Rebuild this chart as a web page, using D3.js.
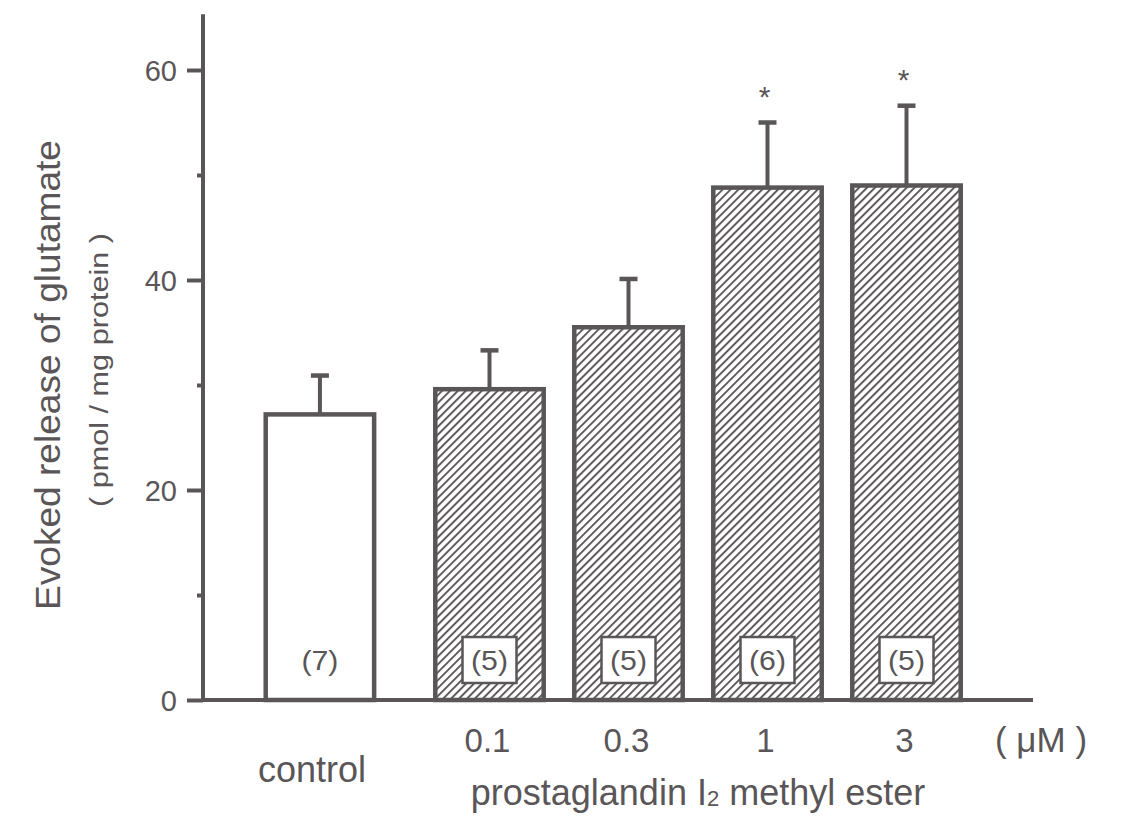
<!DOCTYPE html>
<html>
<head>
<meta charset="utf-8">
<script src="https://cdn.jsdelivr.net/npm/d3@7"></script>
<style>
  html, body { margin: 0; padding: 0; background: #fff; }
  svg { display: block; }
  text { font-family: "Liberation Sans", Arial, sans-serif; fill: #5a5658; }
</style>
</head>
<body>
<svg id="chart" width="1123" height="817"></svg>
<script>
// Evoked glutamate release: control vs. prostaglandin I2 methyl ester doses
const categories = ["control", "0.1", "0.3", "1", "3"];
const means      = [27.2, 29.6, 35.5, 48.8, 49.0];
const sems       = [3.7, 3.7, 4.6, 6.2, 7.6];
const nCounts    = ["(7)", "(5)", "(5)", "(6)", "(5)"];
const significant = [false, false, false, true, true];
const yTicks     = [0, 10, 20, 30, 40, 50, 60];
const yLabelTicks = [0, 20, 40, 60];

const ink = "#5a5658";
const svg = d3.select("#chart");

const y = d3.scaleLinear().domain([0, 60]).range([700, 70]);
const yTop = 65.3;

// Dose bars on a band scale; control sits a bit further left of the series
const doses = categories.slice(1);
const xDose = d3.scaleBand().domain(doses).range([420, 976]).paddingInner(0.22).paddingOuter(0.11);
const bw = xDose.bandwidth();
const step = xDose.step();
const xPos = c => c === "control" ? xDose("0.1") - step * 1.22 : xDose(c);

// Hatch pattern
const defs = svg.append("defs");
const pw = 5.6;
const pat = defs.append("pattern")
  .attr("id", "hatch").attr("patternUnits", "userSpaceOnUse")
  .attr("width", pw).attr("height", pw)
  .attr("patternTransform", "rotate(45)");
pat.append("rect").attr("width", pw).attr("height", pw).attr("fill", "#fff");
pat.append("line").attr("x1", 1).attr("y1", 0).attr("x2", 1).attr("y2", pw)
  .attr("stroke", ink).attr("stroke-width", 1.9);

// Error bars (upper only)
const eb = svg.append("g");
categories.forEach((c, i) => {
  const cx = xPos(c) + bw / 2;
  eb.append("line").attr("x1", cx).attr("x2", cx)
    .attr("y1", y(means[i])).attr("y2", y(means[i] + sems[i]))
    .attr("stroke", ink).attr("stroke-width", 4);
  eb.append("line").attr("x1", cx - 9).attr("x2", cx + 9)
    .attr("y1", y(means[i] + sems[i])).attr("y2", y(means[i] + sems[i]))
    .attr("stroke", ink).attr("stroke-width", 4.5);
  if (significant[i]) {
    eb.append("text").attr("x", cx - 3).attr("y", y(means[i] + sems[i]) - 16)
      .attr("text-anchor", "middle").attr("font-size", 30).text("*");
  }
});

// Bars
const bars = svg.append("g");
categories.forEach((c, i) => {
  bars.append("rect")
    .attr("x", xPos(c)).attr("width", bw)
    .attr("y", y(means[i])).attr("height", y(0) - y(means[i]))
    .attr("fill", i === 0 ? "#fff" : "url(#hatch)")
    .attr("stroke", ink).attr("stroke-width", 4.5);
  const cx = xPos(c) + bw / 2;
  if (i > 0) {
    bars.append("rect").attr("x", cx - 27).attr("y", 637).attr("width", 54).attr("height", 46)
      .attr("fill", "#fff").attr("stroke", ink).attr("stroke-width", 2.5);
  }
  bars.append("text").attr("x", cx).attr("y", 670)
    .attr("text-anchor", "middle").attr("font-size", 27)
    .attr("textLength", 37).attr("lengthAdjust", "spacingAndGlyphs")
    .text(nCounts[i]);
});

// Y axis
const yAxisG = svg.append("g").attr("transform", "translate(203,0)")
  .call(d3.axisLeft(y).tickValues(yTicks)
    .tickSize(0)
    .tickFormat(d => yLabelTicks.includes(d) ? d : ""));
yAxisG.select(".domain").remove();
yAxisG.selectAll(".tick line")
  .attr("x2", d => yLabelTicks.includes(d) ? -16 : -6)
  .attr("stroke", ink).attr("stroke-width", 4);
yAxisG.selectAll(".tick text")
  .attr("x", -26).attr("dy", "0.36em")
  .style("font-family", "'Liberation Sans', Arial, sans-serif")
  .attr("font-size", 29).attr("fill", ink);
svg.append("line").attr("x1", 203).attr("x2", 203)
  .attr("y1", y(yTop)).attr("y2", y(0) + 2)
  .attr("stroke", ink).attr("stroke-width", 4);

// X axis baseline
svg.append("line").attr("x1", 201).attr("x2", 1033)
  .attr("y1", y(0)).attr("y2", y(0))
  .attr("stroke", ink).attr("stroke-width", 4);

// Category labels
doses.forEach(d => {
  svg.append("text").attr("x", xDose(d) + bw / 2 - 2).attr("y", 752)
    .attr("text-anchor", "middle").attr("font-size", 33).text(d);
});
svg.append("text").attr("x", 1041).attr("y", 752)
  .attr("text-anchor", "middle").attr("font-size", 35).text("( \u03BCM )");
svg.append("text").attr("x", xPos("control") + bw / 2 - 8).attr("y", 782)
  .attr("text-anchor", "middle").attr("font-size", 36).text("control");

const xt = svg.append("text").attr("x", 698).attr("y", 805)
  .attr("text-anchor", "middle").attr("font-size", 36);
xt.append("tspan").text("prostaglandin I");
xt.append("tspan").attr("font-size", 22).attr("dy", 1).text("2");
xt.append("tspan").attr("dy", -1).text(" methyl ester");

// Y titles
svg.append("text").attr("transform", "translate(60,375) rotate(-90)")
  .attr("text-anchor", "middle").attr("font-size", 35)
  .attr("textLength", 470).attr("lengthAdjust", "spacingAndGlyphs")
  .text("Evoked release of glutamate");
svg.append("text").attr("transform", "translate(108,370) rotate(-90)")
  .attr("text-anchor", "middle").attr("font-size", 26)
  .attr("textLength", 274).attr("lengthAdjust", "spacingAndGlyphs")
  .text("( pmol / mg protein )");
</script>
</body>
</html>
